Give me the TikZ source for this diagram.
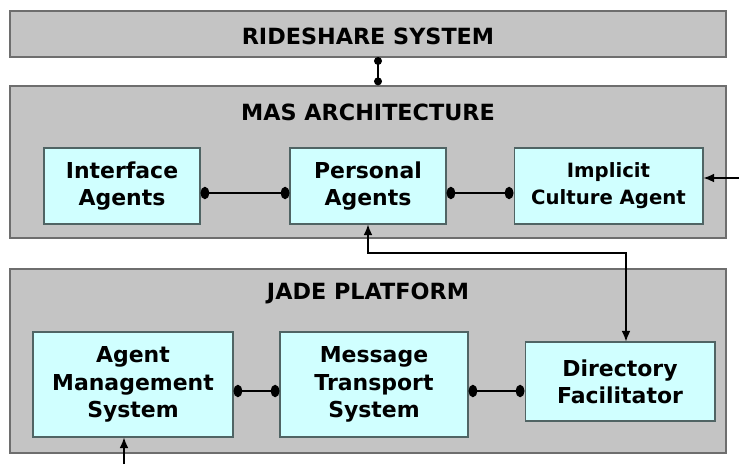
\documentclass[tikz,border=0pt]{standalone}
\usepackage{fontspec}
\setmainfont{DejaVu Sans}
\usepackage{tikz}
\usetikzlibrary{arrows.meta, positioning, calc}

\definecolor{panelgray}{RGB}{196,196,196}
\definecolor{paneledge}{RGB}{110,110,110}
\definecolor{agentcyan}{RGB}{208,255,255}
\definecolor{agentedge}{RGB}{80,100,100}

\begin{document}
\begin{tikzpicture}[
  x=0.02cm, y=-0.02cm,
  panel/.style={draw=paneledge, fill=panelgray, line width=0.8pt, minimum width=14.32cm, inner sep=0pt},
  title/.style={font=\bfseries\fontsize{12.7}{15}\selectfont},
  agent/.style={draw=agentedge, fill=agentcyan, line width=0.6pt, align=center, inner sep=0pt,
    font=\bfseries\fontsize{12.5}{15.5}\selectfont},
  link/.style={{Circle[length=5pt, width=7pt]}-{Circle[length=5pt, width=7pt]}, line width=0.9pt},
  arrow/.style={-{Latex[length=6pt, width=5pt]}, line width=0.8pt},
  twoway/.style={{Latex[length=6pt, width=5pt]}-{Latex[length=6pt, width=5pt]}, line width=0.8pt}
]
\useasboundingbox (0,0) rectangle (739,464);

% layers
\node[panel, minimum height=0.92cm] (rideshare) at (368,34) {};
\node[title] (ridesharetitle) at (368,36) {RIDESHARE SYSTEM};
\node[panel, minimum height=3.04cm] (mas) at (368,162) {};
\node[title] (mastitle) at (368,112) {MAS ARCHITECTURE};
\node[panel, minimum height=3.68cm] (jade) at (368,361) {};
\node[title] (jadetitle) at (368,293) {JADE PLATFORM};

% MAS agents
\node[agent, minimum width=3.12cm, minimum height=1.52cm] (iface) at (122,186) {Interface\\Agents};
\node[agent, minimum width=3.12cm, minimum height=1.52cm] (personal) at (368,186) {Personal\\Agents};
\node[agent, minimum width=3.78cm, minimum height=1.52cm] (implicit) at (608.5,186) {\fontsize{11.2}{15.5}\selectfont Implicit\\\fontsize{11.2}{15.5}\selectfont Culture Agent};

% JADE components
\node[agent, minimum width=4.0cm, minimum height=2.1cm] (ams) at (133,384.5) {Agent\\Management\\System};
\node[agent, minimum width=3.76cm, minimum height=2.1cm] (mts) at (374,384.5) {Message\\Transport\\System};
\node[agent, minimum width=3.8cm, minimum height=1.58cm] (df) at (620,381.5) {Directory\\Facilitator};

% links
\coordinate (rstop) at (378,57);
\draw[link, {Circle[length=4.5pt, width=4.5pt]}-{Circle[length=4.5pt, width=4.5pt]}] (rstop) -- (rstop |- mas.north);
\draw[link] (iface.east |- 0,193) -- (personal.west |- 0,193);
\draw[link] (personal.east |- 0,193) -- (implicit.west |- 0,193);
\draw[link] (ams.east |- 0,391) -- (mts.west |- 0,391);
\draw[link] (mts.east |- 0,391) -- (df.west |- 0,391);

% arrows
\coordinate (icin) at (739,178);
\draw[arrow] (icin) -- (icin -| implicit.east);
\coordinate (bend) at (626,253);
\draw[twoway] (personal.south) |- (bend) -- (bend |- df.north);
\coordinate (amsin) at (124,464);
\draw[arrow] (amsin) -- (amsin |- ams.south);

\end{tikzpicture}
\end{document}
